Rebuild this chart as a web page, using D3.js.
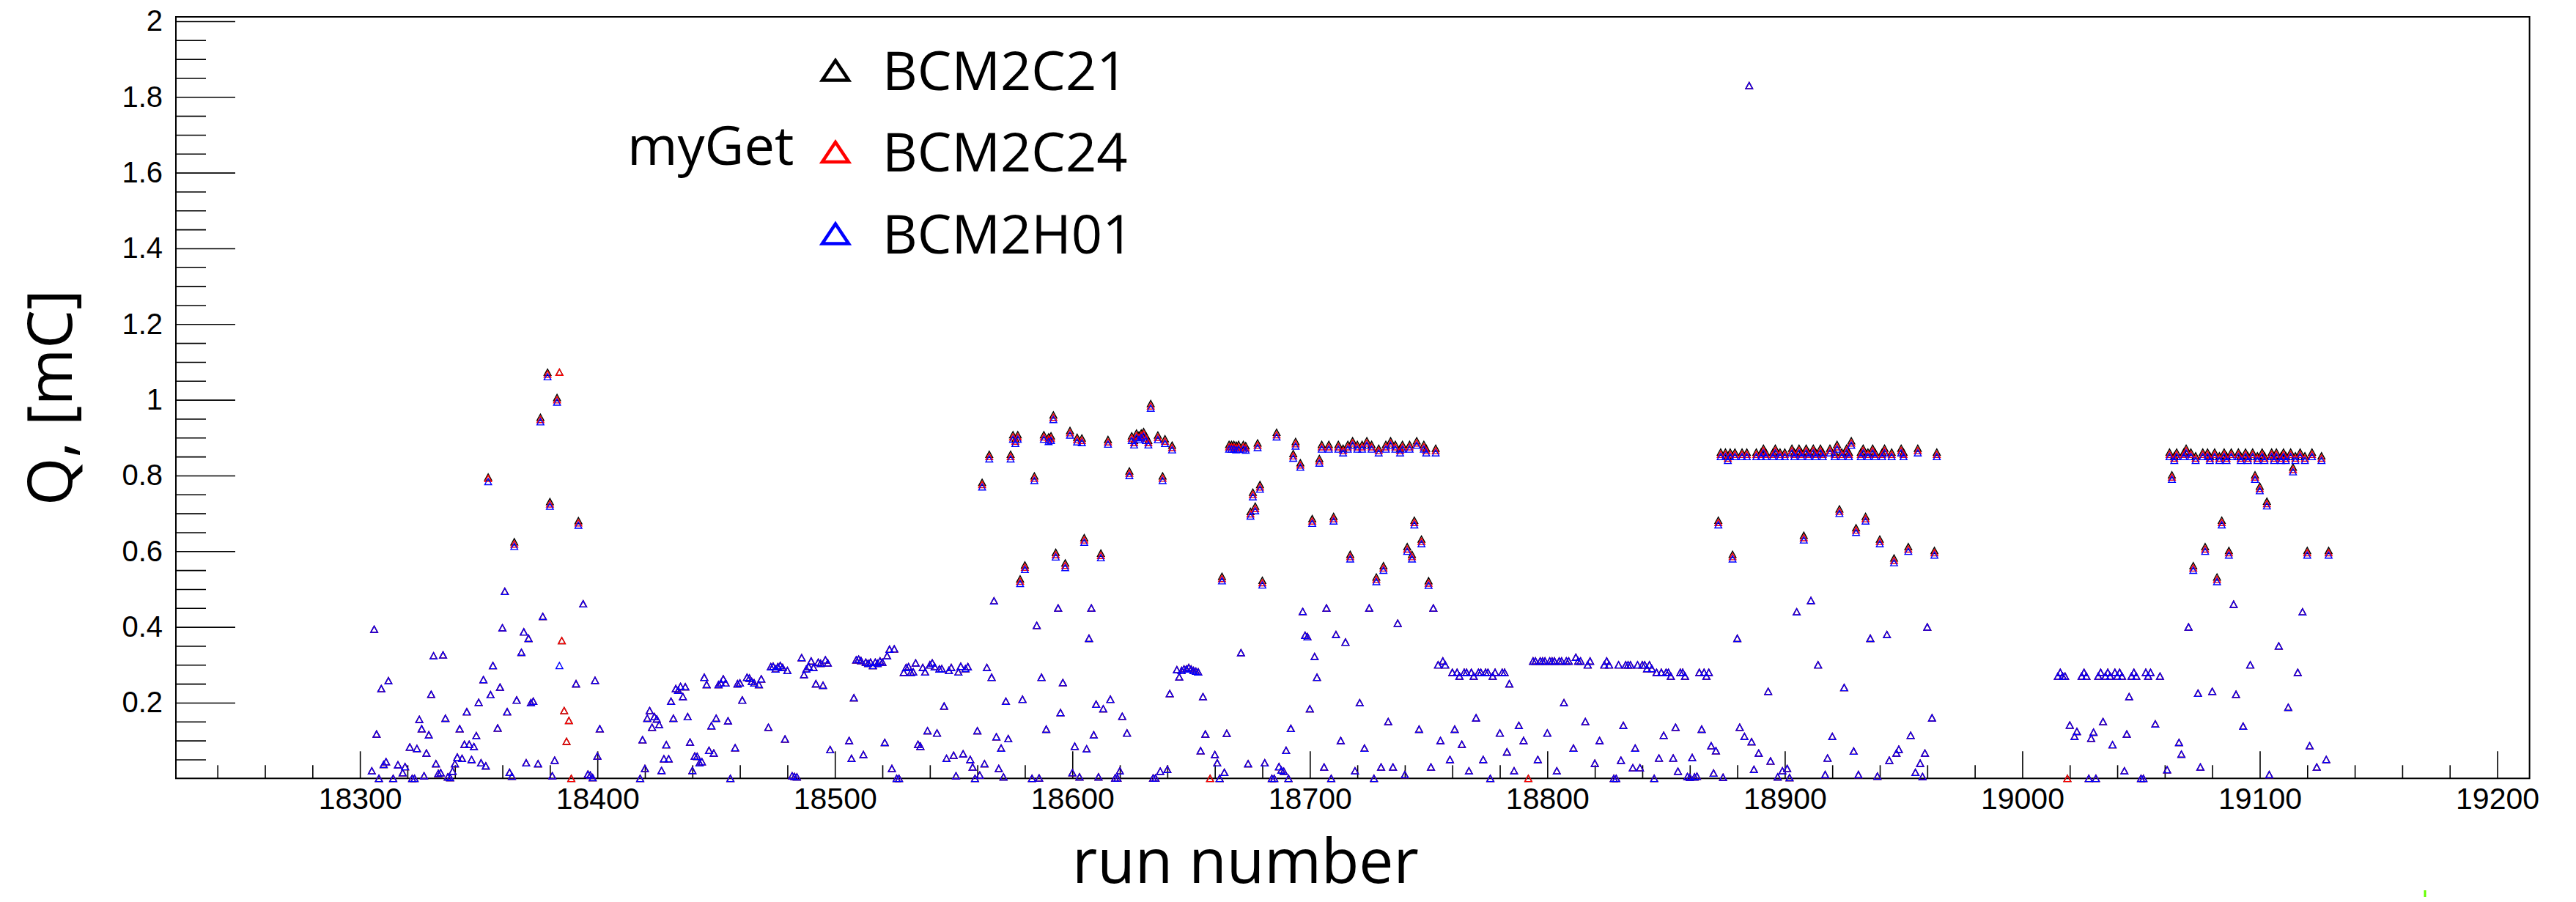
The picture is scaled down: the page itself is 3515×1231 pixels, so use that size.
<!DOCTYPE html>
<html>
<head>
<meta charset="utf-8">
<script src="https://cdn.jsdelivr.net/npm/d3@7"></script>
<style>
  body { margin: 0; background: #fff; }
  svg { display: block; }
</style>
</head>
<body>
<svg id="chart"></svg>
<script>
// run numbers (shared by the three monitors)
var runs = [
  18305,18306,18307,18308,18309,18310,18311,18312,18314,18316,
  18318,18319,18321,18322,18323,18324,18325,18326,18327,18328,
  18329,18330,18331,18332,18333,18334,18335,18336,18337,18338,
  18339,18340,18341,18342,18343,18344,18345,18346,18347,18348,
  18349,18350,18351,18352,18353,18354,18355,18356,18358,18359,
  18360,18361,18362,18363,18364,18365,18366,18368,18369,18370,
  18371,18372,18373,18375,18376,18377,18379,18380,18381,18382,
  18383,18384,18385,18386,18387,18388,18389,18391,18392,18394,
  18396,18397,18398,18399,18400,18401,18418,18419,18420,18421,
  18422,18423,18424,18425,18426,18427,18428,18429,18430,18431,
  18432,18433,18434,18435,18436,18437,18438,18439,18440,18441,
  18442,18443,18444,18445,18446,18447,18448,18449,18450,18451,
  18452,18453,18454,18455,18456,18458,18459,18460,18461,18463,
  18464,18465,18466,18468,18469,18472,18473,18474,18475,18476,
  18477,18478,18479,18480,18482,18483,18484,18486,18487,18488,
  18489,18490,18491,18492,18493,18494,18495,18496,18497,18498,
  18506,18507,18508,18509,18510,18511,18512,18513,18514,18515,
  18516,18517,18518,18519,18520,18521,18522,18523,18524,18525,
  18526,18527,18529,18530,18531,18532,18533,18534,18535,18536,
  18537,18538,18539,18540,18541,18542,18543,18544,18545,18546,
  18547,18548,18549,18550,18551,18552,18553,18554,18555,18556,
  18557,18558,18559,18560,18561,18562,18563,18564,18565,18566,
  18567,18568,18569,18570,18571,18572,18573,18574,18575,18576,
  18577,18578,18579,18580,18583,18584,18585,18586,18587,18588,
  18589,18590,18591,18592,18593,18594,18595,18596,18597,18599,
  18600,18601,18602,18603,18604,18605,18606,18607,18608,18609,
  18610,18611,18612,18613,18615,18616,18618,18619,18620,18621,
  18623,18624,18625,18626,18627,18628,18629,18630,18631,18632,
  18633,18634,18635,18636,18637,18638,18639,18640,18641,18642,
  18644,18645,18646,18647,18648,18649,18650,18651,18652,18653,
  18654,18655,18656,18658,18660,18661,18662,18663,18664,18665,
  18666,18667,18668,18669,18670,18671,18672,18673,18674,18675,
  18676,18677,18678,18679,18680,18681,18684,18685,18686,18687,
  18688,18689,18690,18691,18692,18693,18694,18696,18697,18698,
  18699,18700,18701,18702,18703,18704,
  18705,18706,18707,18708,18709,18710,18711,18712,18713,18714,
  18715,18716,18717,18718,18719,18720,18721,18722,18723,18724,
  18725,18726,18727,18728,18729,18730,18731,18732,18733,18734,
  18735,18736,18737,18738,18739,18740,18741,18742,18743,18744,
  18745,18746,18747,18748,18749,18750,18751,18752,18753,18754,
  18755,18756,18757,18759,18760,18761,18762,18763,18764,18765,
  18766,18767,18768,18769,18770,18771,18772,18773,18774,18775,
  18776,18777,18778,18780,18781,18782,18783,18784,18786,18788,
  18790,18792,18794,18795,18796,18797,18798,18799,18800,18801,
  18802,18803,18804,18805,18806,18807,18808,18809,18811,18812,
  18813,18814,18816,18817,18818,18820,18822,18824,18825,18826,
  18828,18829,18830,18831,18832,18833,18834,18835,18836,18837,
  18838,18839,18840,18841,18842,18843,18844,18845,18846,18847,
  18848,18849,18850,18851,18852,18853,18854,18855,18856,18857,
  18858,18859,18860,18861,18862,18863,18864,18865,18866,18867,
  18868,18869,18870,18871,18872,18873,18874,18875,18876,18877,
  18878,18879,18880,18881,18882,18883,18884,18885,18886,18887,
  18888,18889,18890,18891,18892,18893,18894,18895,18896,18897,
  18898,18899,18900,18901,18902,18903,18904,18905,18906,18907,
  18908,18909,18910,18911,18912,18913,18914,18915,18916,18917,
  18918,18919,18920,18921,18922,18923,18924,18925,18926,18927,
  18928,18929,18930,18931,18932,18933,18934,18935,18936,18937,
  18938,18939,18940,18941,18942,18943,18944,18945,18946,18947,
  18948,18949,18950,18952,18953,18955,18956,18957,18958,18959,
  18960,18962,18963,18964,19015,19016,19017,19018,
  19019,19020,19022,19023,19025,19026,
  19027,19028,19029,19030,19031,19032,19033,19034,19035,19036,
  19037,19038,19039,19040,19041,19042,19043,19044,19045,19046,
  19047,19048,19050,19051,19052,19053,19054,19056,19058,19061,
  19062,19063,19064,19065,19066,19067,19068,19069,19070,19071,
  19072,19073,19074,19075,19076,19077,19078,19079,19080,19081,
  19082,19083,19084,19085,19086,19087,19088,19089,19090,19091,
  19092,19093,19094,19095,19096,19097,19098,19099,19100,19101,
  19102,19103,19104,19105,19106,19107,19108,19109,19110,19111,
  19112,19113,19114,19115,19116,19117,19118,19119,19120,19121,
  19122,19124,19126,19128,19129
]

// charge per run, mC (null = no entry for that monitor)
var qBCM2H01 = [
  0.02,0.394,0.117,0,0.237,0.037,0.044,0.258,0,0.036,
  0.015,0.031,0.083,0,0,0.079,0.156,0.131,0.007,0.067,
  0.115,0.222,0.324,0.039,0.013,0.015,0.326,0.159,0.004,0.002,
  0.019,0.039,0.056,0.131,0.053,0.09,0.176,0.09,0.05,0.084,
  0.113,0.201,0.041,0.261,0.033,0.784,0.221,0.298,0.133,0.241,
  0.398,0.494,0.176,0.016,0.006,0.613,0.207,0.333,0.387,0.041,
  0.37,0.2,0.204,0.039,0.942,0.428,1.061,0.719,0.007,0.048,
  0.994,0.298,null,null,null,null,null,0.25,0.669,0.461,
  0.011,0.009,0.002,0.259,0.059,0.131,0,0.102,0.026,0.159,
  0.179,0.135,0.163,0.157,0.142,0.021,0.052,0.089,0.052,0.204,
  0.159,0.237,0.233,0.243,0.216,0.242,0.163,0.096,0.021,0.059,
  0.058,0.041,0.044,0.267,0.248,0.074,0.139,0.067,0.159,0.248,
  0.252,0.263,0.252,0.152,0,0.081,0.25,0.252,0.207,0.267,
  0.265,0.256,0.252,0.248,0.263,0.135,0.295,0.296,0.289,0.295,
  0.298,0.293,0.104,0.285,0.007,0.005,0.004,0.319,0.274,0.289,
  0.295,0.31,0.293,0.25,0.307,0.304,0.246,0.313,0.305,0.076,
  0.1,0.053,0.213,0.313,0.315,0.311,0.063,0.307,0.304,0.307,
  0.298,0.307,0.304,0.31,0.307,0.095,0.324,0.341,0.026,0.342,
  0,0,0.28,0.293,0.295,0.28,0.281,0.305,0.09,0.085,
  0.293,0.281,0.126,0.3,0.305,0.295,0.12,0.289,0.29,0.191,
  0.053,0.285,0.293,0.061,0.007,0.281,0.296,0.065,0.29,0.295,
  0.05,0.03,0,0.126,0.009,0.77,0.039,0.293,0.844,0.267,
  0.469,0.11,0.026,0.08,0.004,0.204,0.105,0.844,0.896,0.885,
  0.896,0.515,0.209,0.552,0,0.787,0.404,0.001,0.267,0.896,
  0.13,0.89,0.893,0.948,0.585,0.45,0.174,0.253,0.557,0.907,
  0.015,0.085,0.889,0.004,0.887,0.624,0.078,0.37,0.45,0.115,
  0.196,0.004,0.583,0.184,0.883,0.209,0.001,0.001,0.02,0.164,
  0.12,0.8,0.893,0.881,0.9,0.895,0.9,0.904,0.893,0.881,
  0.978,0.001,0.001,0.895,0.019,0.787,0.885,0.024,0.224,0.868,
  0.287,0.268,0.285,0.289,0.289,0.293,0.289,0.285,0.283,0.281,
  0.073,0.216,0.117,null,0.063,0.041,0,0.522,0.016,0.119,
  0.87,0.87,0.87,0.868,0.87,0.332,0.87,0.867,0.039,0.693,
  0.744,0.707,0.874,0.764,0.511,0.041,0,0,0.902,0.031,
  0.022,0.019,0.074,0,0.132,0.846,0.878,0.822,0.441,0.378,
  0.374,0.184,0.674,0.322,0.267,0.833,
  0.87,0.03,0.45,0.87,0,0.68,0.38,0.87,0.1,0.86,
  0.36,0.87,0.58,0.88,0.02,0.87,0.2,0.87,0.08,0.88,
  0.45,0.87,0,0.52,0.86,0.03,0.55,0.87,0.15,0.88,
  0.03,0.87,0.41,0.86,0.87,0.01,0.6,0.87,0.58,0.67,
  0.88,0.13,0.62,0.87,0.86,0.51,0.03,0.45,0.86,0.3,
  0.1,0.31,0.3,0.05,0.28,0.13,0.28,0.27,0.09,0.28,
  0.28,0.02,0.28,0.27,0.16,0.28,0.28,0.05,0.28,0.28,
  0,0.27,0.28,0.12,0.28,0.28,0.07,0.25,0.02,0.14,
  0.1,null,0.31,0.31,0.05,0.31,0.31,0.31,0.12,0.31,
  0.31,0.31,0.02,0.31,0.31,0.2,0.31,0.31,0.08,0.32,
  0.31,0.31,0.15,0.3,0.31,0.04,0.1,0.3,0.31,0.3,
  0,0,0.3,0.048,0.14,0.3,0.3,0.3,0.028,0.08,
  0.3,0.028,0.3,0.3,0.29,0.3,0.29,0,0.28,0.054,
  0.28,0.114,0.28,0.28,0.27,0.054,0.135,0.019,0.28,0.28,
  0.27,0.005,0.003,0.055,0.004,0.006,0.28,0.13,0.28,0.27,
  0.28,0.086,0.014,0.073,0.67,0.85,0.003,0.85,0.84,0.85,
  0.58,0.85,0.37,0.135,0.85,0.111,0.85,1.83,0.097,0.024,
  0.85,0.067,0.85,0.86,0.85,0.23,0.046,0.85,0.86,0.004,
  0.85,0.02,0.85,0.026,0.002,0.86,0.85,0.44,0.86,0.85,
  0.63,0.86,0.85,0.47,0.86,0.85,0.3,0.86,0.85,0.01,
  0.054,0.86,0.111,0.85,0.87,0.7,0.85,0.24,0.86,0.85,
  0.88,0.072,0.65,0.01,0.85,0.86,0.68,0.85,0.37,0.86,
  0.85,0.006,0.62,0.85,0.86,0.38,0.048,0.85,0.57,0.067,
  0.077,0.86,0.85,0.6,0.114,0.016,0.86,0.04,0.005,0.067,
  0.4,0.16,0.59,0.85,0.27,0.28,0.27,0.27,
  null,0.141,0.111,0.124,0.27,0.28,
  0.27,0,0.106,0.122,0,0.27,0.28,0.15,0.27,0.28,
  0.27,0.089,0.28,0.27,0.28,0.27,0.02,0.117,0.216,0.27,
  0.28,0.27,0,0,0.28,0.27,0.28,0.144,0.27,0.023,
  0.85,0.79,0.84,0.85,0.095,0.064,0.85,0.86,0.4,0.85,
  0.55,0.84,0.225,0.03,0.85,0.6,0.85,0.84,0.23,0.85,
  0.52,0.84,0.67,0.85,0.84,0.59,0.85,0.46,0.222,0.85,
  0.84,0.138,0.85,0.84,0.3,0.85,0.79,0.84,0.76,0.85,
  0.84,0.72,0.01,0.85,0.84,0.85,0.35,0.84,0.85,0.84,
  0.188,0.85,0.81,0.84,0.28,0.85,0.44,0.84,0.59,0.086,
  0.85,0.03,0.84,0.05,0.59
]

var qBCM2C24 = [
  0.02,0.394,0.117,0,0.237,0.037,0.044,0.258,0,0.036,
  0.015,0.031,0.083,0,0,0.079,0.156,0.131,0.007,0.067,
  0.115,0.222,0.324,0.039,0.013,0.015,0.326,0.159,0.004,0.002,
  0.019,0.039,0.056,0.131,0.053,0.09,0.176,0.09,0.05,0.084,
  0.113,0.201,0.041,0.261,0.033,0.792,0.221,0.298,0.133,0.241,
  0.398,0.494,0.176,0.016,0.006,0.619,0.207,0.333,0.387,0.041,
  0.37,0.2,0.204,0.039,0.948,0.428,1.068,0.725,0.007,0.048,
  1.0,1.073,0.364,0.179,0.098,0.153,0,0.25,0.675,0.461,
  0.011,0.009,0.002,0.259,0.059,0.131,0,0.102,0.026,0.159,
  0.179,0.135,0.163,0.157,0.142,0.021,0.052,0.089,0.052,0.204,
  0.159,0.237,0.233,0.243,0.216,0.242,0.163,0.096,0.021,0.059,
  0.058,0.041,0.044,0.267,0.248,0.074,0.139,0.067,0.159,0.248,
  0.252,0.263,0.252,0.152,0,0.081,0.25,0.252,0.207,0.267,
  0.265,0.256,0.252,0.248,0.263,0.135,0.295,0.296,0.289,0.295,
  0.298,0.293,0.104,0.285,0.007,0.005,0.004,0.319,0.274,0.289,
  0.295,0.31,0.293,0.25,0.307,0.304,0.246,0.313,0.305,0.076,
  0.1,0.053,0.213,0.313,0.315,0.311,0.063,0.307,0.304,0.307,
  0.298,0.307,0.304,0.31,0.307,0.095,0.324,0.341,0.026,0.342,
  0,0,0.28,0.293,0.295,0.28,0.281,0.305,0.09,0.085,
  0.293,0.281,0.126,0.3,0.305,0.295,0.12,0.289,0.29,0.191,
  0.053,0.285,0.293,0.061,0.007,0.281,0.296,0.065,0.29,0.295,
  0.05,0.03,0,0.126,0.009,0.776,0.039,0.293,0.85,0.267,
  0.469,0.11,0.026,0.08,0.004,0.204,0.105,0.85,0.902,0.891,
  0.902,0.521,0.209,0.558,0,0.793,0.404,0.001,0.267,0.902,
  0.13,0.896,0.899,0.954,0.591,0.45,0.174,0.253,0.563,0.913,
  0.015,0.085,0.895,0.004,0.893,0.63,0.078,0.37,0.45,0.115,
  0.196,0.004,0.589,0.184,0.889,0.209,0.001,0.001,0.02,0.164,
  0.12,0.806,0.899,0.887,0.906,0.901,0.906,0.91,0.899,0.887,
  0.984,0.001,0.001,0.901,0.019,0.793,0.891,0.024,0.224,0.874,
  0.287,0.268,0.285,0.289,0.289,0.293,0.289,0.285,0.283,0.281,
  0.073,0.216,0.117,0,0.063,0.041,0,0.528,0.016,0.119,
  0.876,0.876,0.876,0.874,0.876,0.332,0.876,0.873,0.039,0.699,
  0.75,0.713,0.88,0.77,0.517,0.041,0,0,0.908,0.031,
  0.022,0.019,0.074,0,0.132,0.852,0.884,0.828,0.441,0.378,
  0.374,0.184,0.68,0.322,0.267,0.839,
  0.876,0.03,0.45,0.876,0,0.686,0.38,0.876,0.1,0.866,
  0.36,0.876,0.586,0.886,0.02,0.876,0.2,0.876,0.08,0.886,
  0.45,0.876,0,0.526,0.866,0.03,0.556,0.876,0.15,0.886,
  0.03,0.876,0.41,0.866,0.876,0.01,0.606,0.876,0.586,0.676,
  0.886,0.13,0.626,0.876,0.866,0.516,0.03,0.45,0.866,0.3,
  0.1,0.31,0.3,0.05,0.28,0.13,0.28,0.27,0.09,0.28,
  0.28,0.02,0.28,0.27,0.16,0.28,0.28,0.05,0.28,0.28,
  0,0.27,0.28,0.12,0.28,0.28,0.07,0.25,0.02,0.14,
  0.1,0,0.31,0.31,0.05,0.31,0.31,0.31,0.12,0.31,
  0.31,0.31,0.02,0.31,0.31,0.2,0.31,0.31,0.08,0.32,
  0.31,0.31,0.15,0.3,0.31,0.04,0.1,0.3,0.31,0.3,
  0,0,0.3,0.048,0.14,0.3,0.3,0.3,0.028,0.08,
  0.3,0.028,0.3,0.3,0.29,0.3,0.29,0,0.28,0.054,
  0.28,0.114,0.28,0.28,0.27,0.054,0.135,0.019,0.28,0.28,
  0.27,0.005,0.003,0.055,0.004,0.006,0.28,0.13,0.28,0.27,
  0.28,0.086,0.014,0.073,0.676,0.856,0.003,0.856,0.846,0.856,
  0.586,0.856,0.37,0.135,0.856,0.111,0.856,1.83,0.097,0.024,
  0.856,0.067,0.856,0.866,0.856,0.23,0.046,0.856,0.866,0.004,
  0.856,0.02,0.856,0.026,0.002,0.866,0.856,0.44,0.866,0.856,
  0.636,0.866,0.856,0.47,0.866,0.856,0.3,0.866,0.856,0.01,
  0.054,0.866,0.111,0.856,0.876,0.706,0.856,0.24,0.866,0.856,
  0.886,0.072,0.656,0.01,0.856,0.866,0.686,0.856,0.37,0.866,
  0.856,0.006,0.626,0.856,0.866,0.38,0.048,0.856,0.576,0.067,
  0.077,0.866,0.856,0.606,0.114,0.016,0.866,0.04,0.005,0.067,
  0.4,0.16,0.596,0.856,0.27,0.28,0.27,0.27,
  0,0.141,0.111,0.124,0.27,0.28,
  0.27,0,0.106,0.122,0,0.27,0.28,0.15,0.27,0.28,
  0.27,0.089,0.28,0.27,0.28,0.27,0.02,0.117,0.216,0.27,
  0.28,0.27,0,0,0.28,0.27,0.28,0.144,0.27,0.023,
  0.856,0.796,0.846,0.856,0.095,0.064,0.856,0.866,0.4,0.856,
  0.556,0.846,0.225,0.03,0.856,0.606,0.856,0.846,0.23,0.856,
  0.526,0.846,0.676,0.856,0.846,0.596,0.856,0.46,0.222,0.856,
  0.846,0.138,0.856,0.846,0.3,0.856,0.796,0.846,0.766,0.856,
  0.846,0.726,0.01,0.856,0.846,0.856,0.35,0.846,0.856,0.846,
  0.188,0.856,0.816,0.846,0.28,0.856,0.44,0.846,0.596,0.086,
  0.856,0.03,0.846,0.05,0.596
]

var qBCM2C21 = [
  0.02,0.394,0.117,0,0.237,0.037,0.044,0.258,0,0.036,
  0.015,0.031,0.083,0,0,0.079,0.156,0.131,0.007,0.067,
  0.115,0.222,0.324,0.039,0.013,0.015,0.326,0.159,0.004,0.002,
  0.019,0.039,0.056,0.131,0.053,0.09,0.176,0.09,0.05,0.084,
  0.113,0.201,0.041,0.261,0.033,0.796,0.221,0.298,0.133,0.241,
  0.398,0.494,0.176,0.016,0.006,0.625,0.207,0.333,0.387,0.041,
  0.37,0.2,0.204,0.039,0.954,0.428,1.073,0.731,0.007,0.048,
  1.006,1.073,0.364,0.179,0.098,0.153,0,0.25,0.681,0.461,
  0.011,0.009,0.002,0.259,0.059,0.131,0,0.102,0.026,0.159,
  0.179,0.135,0.163,0.157,0.142,0.021,0.052,0.089,0.052,0.204,
  0.159,0.237,0.233,0.243,0.216,0.242,0.163,0.096,0.021,0.059,
  0.058,0.041,0.044,0.267,0.248,0.074,0.139,0.067,0.159,0.248,
  0.252,0.263,0.252,0.152,0,0.081,0.25,0.252,0.207,0.267,
  0.265,0.256,0.252,0.248,0.263,0.135,0.295,0.296,0.289,0.295,
  0.298,0.293,0.104,0.285,0.007,0.005,0.004,0.319,0.274,0.289,
  0.295,0.31,0.293,0.25,0.307,0.304,0.246,0.313,0.305,0.076,
  0.1,0.053,0.213,0.313,0.315,0.311,0.063,0.307,0.304,0.307,
  0.298,0.307,0.304,0.31,0.307,0.095,0.324,0.341,0.026,0.342,
  0,0,0.28,0.293,0.295,0.28,0.281,0.305,0.09,0.085,
  0.293,0.281,0.126,0.3,0.305,0.295,0.12,0.289,0.29,0.191,
  0.053,0.285,0.293,0.061,0.007,0.281,0.296,0.065,0.29,0.295,
  0.05,0.03,0,0.126,0.009,0.782,0.039,0.293,0.856,0.267,
  0.469,0.11,0.026,0.08,0.004,0.204,0.105,0.856,0.908,0.897,
  0.908,0.527,0.209,0.564,0,0.799,0.404,0.001,0.267,0.908,
  0.13,0.902,0.905,0.96,0.597,0.45,0.174,0.253,0.569,0.919,
  0.015,0.085,0.901,0.004,0.899,0.636,0.078,0.37,0.45,0.115,
  0.196,0.004,0.595,0.184,0.895,0.209,0.001,0.001,0.02,0.164,
  0.12,0.812,0.905,0.893,0.912,0.907,0.912,0.916,0.905,0.893,
  0.99,0.001,0.001,0.907,0.019,0.799,0.897,0.024,0.224,0.88,
  0.287,0.268,0.285,0.289,0.289,0.293,0.289,0.285,0.283,0.281,
  0.073,0.216,0.117,0,0.063,0.041,0,0.534,0.016,0.119,
  0.882,0.882,0.882,0.88,0.882,0.332,0.882,0.879,0.039,0.705,
  0.756,0.719,0.886,0.776,0.523,0.041,0,0,0.914,0.031,
  0.022,0.019,0.074,0,0.132,0.858,0.89,0.834,0.441,0.378,
  0.374,0.184,0.686,0.322,0.267,0.845,
  0.882,0.03,0.45,0.882,0,0.692,0.38,0.882,0.1,0.872,
  0.36,0.882,0.592,0.892,0.02,0.882,0.2,0.882,0.08,0.892,
  0.45,0.882,0,0.532,0.872,0.03,0.562,0.882,0.15,0.892,
  0.03,0.882,0.41,0.872,0.882,0.01,0.612,0.882,0.592,0.682,
  0.892,0.13,0.632,0.882,0.872,0.522,0.03,0.45,0.872,0.3,
  0.1,0.31,0.3,0.05,0.28,0.13,0.28,0.27,0.09,0.28,
  0.28,0.02,0.28,0.27,0.16,0.28,0.28,0.05,0.28,0.28,
  0,0.27,0.28,0.12,0.28,0.28,0.07,0.25,0.02,0.14,
  0.1,0,0.31,0.31,0.05,0.31,0.31,0.31,0.12,0.31,
  0.31,0.31,0.02,0.31,0.31,0.2,0.31,0.31,0.08,0.32,
  0.31,0.31,0.15,0.3,0.31,0.04,0.1,0.3,0.31,0.3,
  0,0,0.3,0.048,0.14,0.3,0.3,0.3,0.028,0.08,
  0.3,0.028,0.3,0.3,0.29,0.3,0.29,0,0.28,0.054,
  0.28,0.114,0.28,0.28,0.27,0.054,0.135,0.019,0.28,0.28,
  0.27,0.005,0.003,0.055,0.004,0.006,0.28,0.13,0.28,0.27,
  0.28,0.086,0.014,0.073,0.682,0.862,0.003,0.862,0.852,0.862,
  0.592,0.862,0.37,0.135,0.862,0.111,0.862,1.83,0.097,0.024,
  0.862,0.067,0.862,0.872,0.862,0.23,0.046,0.862,0.872,0.004,
  0.862,0.02,0.862,0.026,0.002,0.872,0.862,0.44,0.872,0.862,
  0.642,0.872,0.862,0.47,0.872,0.862,0.3,0.872,0.862,0.01,
  0.054,0.872,0.111,0.862,0.882,0.712,0.862,0.24,0.872,0.862,
  0.892,0.072,0.662,0.01,0.862,0.872,0.692,0.862,0.37,0.872,
  0.862,0.006,0.632,0.862,0.872,0.38,0.048,0.862,0.582,0.067,
  0.077,0.872,0.862,0.612,0.114,0.016,0.872,0.04,0.005,0.067,
  0.4,0.16,0.602,0.862,0.27,0.28,0.27,0.27,
  0,0.141,0.111,0.124,0.27,0.28,
  0.27,0,0.106,0.122,0,0.27,0.28,0.15,0.27,0.28,
  0.27,0.089,0.28,0.27,0.28,0.27,0.02,0.117,0.216,0.27,
  0.28,0.27,0,0,0.28,0.27,0.28,0.144,0.27,0.023,
  0.862,0.802,0.852,0.862,0.095,0.064,0.862,0.872,0.4,0.862,
  0.562,0.852,0.225,0.03,0.862,0.612,0.862,0.852,0.23,0.862,
  0.532,0.852,0.682,0.862,0.852,0.602,0.862,0.46,0.222,0.862,
  0.852,0.138,0.862,0.852,0.3,0.862,0.802,0.852,0.772,0.862,
  0.852,0.732,0.01,0.862,0.852,0.862,0.35,0.852,0.862,0.852,
  0.188,0.862,0.822,0.852,0.28,0.862,0.44,0.852,0.602,0.086,
  0.862,0.03,0.852,0.05,0.602
]

var seriesNames = ['BCM2C21', 'BCM2C24', 'BCM2H01']
var seriesColors = ['#000000', '#ff0000', '#0000ff']
var legendHeader = 'myGet'
var xTickValues = [18300, 18400, 18500, 18600, 18700, 18800, 18900, 19000, 19100, 19200]
var yTickValues = [0.2, 0.4, 0.6, 0.8, 1, 1.2, 1.4, 1.6, 1.8, 2]
var xTitle = 'run number'
var yTitle = 'Q, [mC]'

var W = 3515, H = 1231
var frame = {left: 240, right: 3451.6, top: 23, bottom: 1062.3}

var svg = d3.select('#chart').attr('width', W).attr('height', H)
svg.append('rect').attr('width', W).attr('height', H).attr('fill', '#fff')

var x = d3.scaleLinear().domain([18222.5, 19213.6]).range([frame.left, frame.right])
var y = d3.scaleLinear().domain([0, 2.0115]).range([frame.bottom, frame.top])

var tickFont = '"Liberation Sans", Arial, sans-serif'
var titleFont = '"Open Sans", "Noto Sans", sans-serif'

// minor ticks: every 20 runs, every 0.05 mC
var xMinor = d3.range(18240, 19213, 20).filter(function(v){ return v % 100 !== 0 })
var yMinor = d3.range(1, 40).filter(function(i){ return i % 4 !== 0 }).map(function(i){ return i * 0.05 })

function styleAxis(g, size){
  g.select('.domain').remove()
  g.selectAll('line').attr('stroke', '#000').attr('stroke-width', 1.6)
  g.selectAll('text').attr('fill', '#000').style('font-family', tickFont).style('font-size', size + 'px')
}

svg.append('g').attr('transform', 'translate(0,' + frame.bottom + ')')
  .call(d3.axisBottom(x).tickValues(xMinor).tickSizeInner(-18).tickSizeOuter(0).tickFormat(function(){ return '' }))
  .call(styleAxis, 41)
svg.append('g').attr('transform', 'translate(0,' + frame.bottom + ')')
  .call(d3.axisBottom(x).tickValues(xTickValues).tickSizeInner(-37).tickSizeOuter(0).tickPadding(13).tickFormat(d3.format('d')))
  .call(styleAxis, 41)

svg.append('g').attr('transform', 'translate(' + frame.left + ',0)')
  .call(d3.axisLeft(y).tickValues(yMinor).tickSizeInner(-41).tickSizeOuter(0).tickFormat(function(){ return '' }))
  .call(styleAxis, 40)
svg.append('g').attr('transform', 'translate(' + frame.left + ',0)')
  .call(d3.axisLeft(y).tickValues(yTickValues).tickSizeInner(-81).tickSizeOuter(0).tickPadding(18).tickFormat(d3.format('~g')))
  .call(styleAxis, 40)

svg.append('rect')
  .attr('x', frame.left).attr('y', frame.top)
  .attr('width', frame.right - frame.left).attr('height', frame.bottom - frame.top)
  .attr('fill', 'none').attr('stroke', '#000').attr('stroke-width', 2)

// open triangle marker (ROOT style 26)
function triangle(w, h){
  return 'M' + (-w / 2) + ',' + (h / 2) + 'L' + (w / 2) + ',' + (h / 2) + 'L0,' + (-h / 2) + 'Z'
}

var seriesValues = [qBCM2C21, qBCM2C24, qBCM2H01]
seriesValues.forEach(function(vals, s){
  var pts = runs.map(function(r, i){ return [r, vals[i]] }).filter(function(d){ return d[1] !== null })
  svg.append('g').attr('class', 'series-' + seriesNames[s])
    .selectAll('path').data(pts).join('path')
    .attr('transform', function(d){ return 'translate(' + x(d[0]) + ',' + y(d[1]) + ')' })
    .attr('d', triangle(9.4, 8.6))
    .attr('fill', 'none')
    .attr('stroke', seriesColors[s])
    .attr('stroke-width', 1.4)
})

// legend
var legend = svg.append('g')
legend.append('text').attr('x', 856).attr('y', 225).text(legendHeader)
  .style('font-family', titleFont).style('font-size', '74px').attr('fill', '#000')
seriesNames.forEach(function(name, i){
  var cy = 96 + i * 111.5
  legend.append('path').attr('transform', 'translate(1140,' + cy + ')')
    .attr('d', triangle(36, 27)).attr('fill', 'none')
    .attr('stroke', seriesColors[i]).attr('stroke-width', 4.5)
  legend.append('text').attr('x', 1204).attr('y', cy + 26.5).text(name)
    .style('font-family', titleFont).style('font-size', '74px').attr('fill', '#000')
})

// axis titles
svg.append('text').attr('x', 1463).attr('y', 1205).text(xTitle)
  .style('font-family', titleFont).style('font-size', '84px').attr('fill', '#000')
svg.append('text').attr('transform', 'translate(98,' + ((frame.top + frame.bottom) / 2) + ') rotate(-90)')
  .attr('text-anchor', 'middle').text(yTitle)
  .style('font-family', titleFont).style('font-size', '84px').attr('fill', '#000')

// small green mark in the bottom margin of the original canvas
svg.append('rect').attr('x', 3307.5).attr('y', 1215).attr('width', 3).attr('height', 9).attr('fill', '#66ff00')
</script>
</body>
</html>
